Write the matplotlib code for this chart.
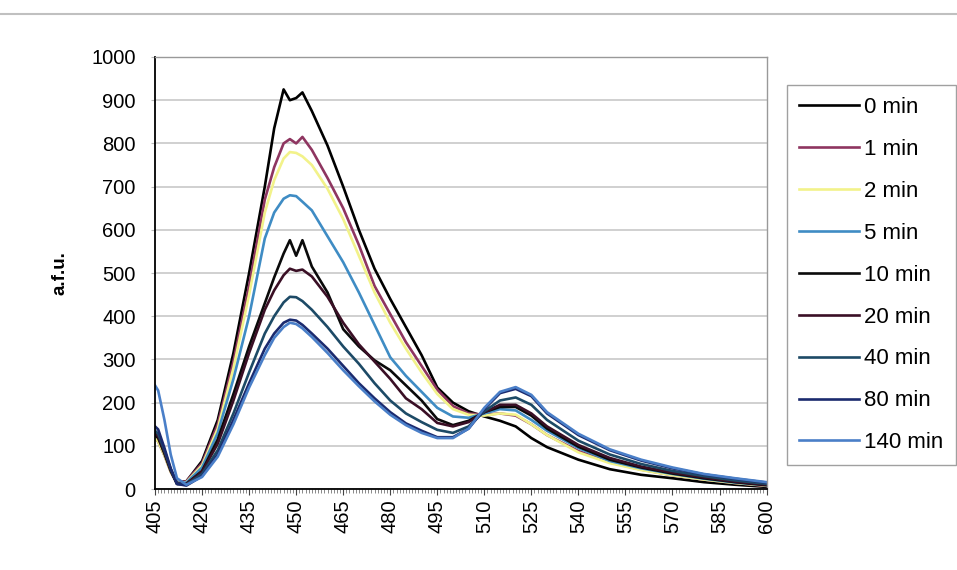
import matplotlib
matplotlib.use('Agg')
import matplotlib.pyplot as plt
from matplotlib.lines import Line2D
from matplotlib.ticker import MultipleLocator

plt.rcParams['font.family'] = ['Liberation Sans', 'DejaVu Sans']

wavelength = [405, 406, 408, 410, 412, 415, 420, 425, 430, 435, 440, 443, 446, 448,
              450, 452, 455, 460, 465, 470, 475, 480, 485, 490, 495, 500, 505, 510,
              515, 520, 525, 530, 540, 550, 560, 570, 580, 590, 600]

min0 = [125, 118, 85, 45, 15, 18, 65, 160, 315, 500, 700, 835, 925, 900,
        905, 918, 875, 795, 700, 600, 510, 440, 375, 310, 235, 200, 180, 168,
        158, 145, 118, 97, 68, 46, 33, 25, 16, 10, 5]
min1 = [118, 110, 78, 40, 14, 18, 60, 150, 295, 470, 670, 745, 800, 810,
        800, 815, 785, 720, 650, 565, 470, 405, 340, 285, 230, 192, 175, 172,
        175, 170, 150, 125, 88, 62, 45, 32, 22, 14, 7]
min2 = [118, 110, 78, 40, 14, 16, 55, 140, 280, 450, 640, 715, 765, 780,
        778, 770, 750, 695, 625, 540, 455, 385, 325, 270, 220, 185, 172, 170,
        175, 172, 150, 125, 85, 60, 44, 32, 22, 14, 8]
min5 = [130, 122, 85, 45, 14, 15, 50, 130, 255, 400, 580, 640, 672, 680,
        678, 665, 645, 585, 525, 455, 380, 305, 262, 225, 188, 168, 165, 175,
        185, 182, 160, 135, 95, 65, 48, 35, 24, 15, 9]
min10 = [125, 118, 82, 42, 12, 12, 42, 115, 220, 330, 430, 490, 545, 576,
         540, 576, 515, 455, 370, 330, 298, 275, 240, 205, 162, 148, 158, 178,
         190, 190, 170, 140, 98, 68, 50, 36, 25, 16, 9]
min20 = [130, 122, 85, 44, 12, 12, 40, 105, 205, 315, 415, 460, 495, 510,
         505, 508, 492, 445, 385, 335, 295, 255, 210, 185, 153, 145, 155, 178,
         195, 195, 175, 145, 102, 72, 52, 38, 27, 17, 10]
min40 = [135, 128, 90, 46, 12, 10, 35, 90, 175, 270, 360, 400, 432, 445,
         444, 435, 415, 375, 330, 290, 245, 205, 175, 155, 137, 130, 145, 180,
         205, 212, 195, 160, 112, 80, 58, 42, 30, 20, 12]
min80 = [145, 138, 95, 48, 12, 8, 30, 80, 160, 245, 325, 360, 385, 392,
         390, 380, 360, 325, 285, 245, 210, 178, 152, 135, 120, 120, 140, 185,
         222, 232, 215, 175, 125, 90, 66, 48, 34, 24, 15]
min140 = [240, 228, 160, 80, 25, 10, 28, 75, 150, 235, 310, 350, 375, 385,
          382, 372, 352, 315, 275, 238, 203, 172, 148, 130, 118, 118, 140, 188,
          225, 236, 218, 178, 128, 92, 68, 50, 35, 25, 16]

labels = ['0 min', '1 min', '2 min', '5 min', '10 min', '20 min', '40 min', '80 min', '140 min']
colors = ['#000000', '#8e3560', '#f2f28a', '#3f8cc4', '#0a0a0a', '#3a0f25',
          '#1d4a66', '#1b2a6e', '#4a7fc8']


def main():
    series = [min0, min1, min2, min5, min10, min20, min40, min80, min140]

    fig = plt.figure(figsize=(9.57, 5.70), dpi=100)
    ax = fig.add_axes([0.162, 0.142, 0.639, 0.758])

    for vals, lab, col in zip(series, labels, colors):
        ax.plot(wavelength, vals, color=col, linewidth=1.9, label=lab)

    ax.set_xlim(405, 600)
    ax.set_ylim(0, 1000)
    ax.xaxis.set_major_locator(MultipleLocator(15))
    ax.xaxis.set_minor_locator(MultipleLocator(1))
    ax.yaxis.set_major_locator(MultipleLocator(100))
    ax.grid(axis='y', color='#c8c8c8', linewidth=1.2)
    ax.set_axisbelow(True)

    ax.tick_params(axis='x', which='major', direction='out', length=4, labelsize=14.5,
                   labelrotation=90, color='#444444')
    ax.tick_params(axis='x', which='minor', direction='out', length=3, color='#777777', width=0.6)
    ax.tick_params(axis='y', direction='out', length=3, pad=11, labelsize=14.5, color='#bbbbbb')

    ax.set_ylabel('a.f.u.', fontsize=13.5, fontweight='bold', labelpad=16)

    for side in ['top', 'right']:
        ax.spines[side].set_color('#999999')
        ax.spines[side].set_linewidth(1.0)
    ax.spines['left'].set_linewidth(1.3)
    ax.spines['bottom'].set_linewidth(1.3)

    leg = fig.legend(loc='upper left', bbox_to_anchor=(0.822, 0.851), fontsize=16,
                     labelspacing=0.94, handlelength=2.7, handletextpad=0.25,
                     borderpad=0.55, borderaxespad=0, fancybox=False,
                     edgecolor='#a0a0a0', framealpha=1)
    leg.get_frame().set_linewidth(1.0)

    # faint border of the chart area at the top of the scan
    fig.add_artist(Line2D([0.0, 1.0], [0.975, 0.975], color='#c0c0c0', linewidth=1.5))

    fig.savefig('out.png', dpi=100)


if __name__ == '__main__':
    main()
